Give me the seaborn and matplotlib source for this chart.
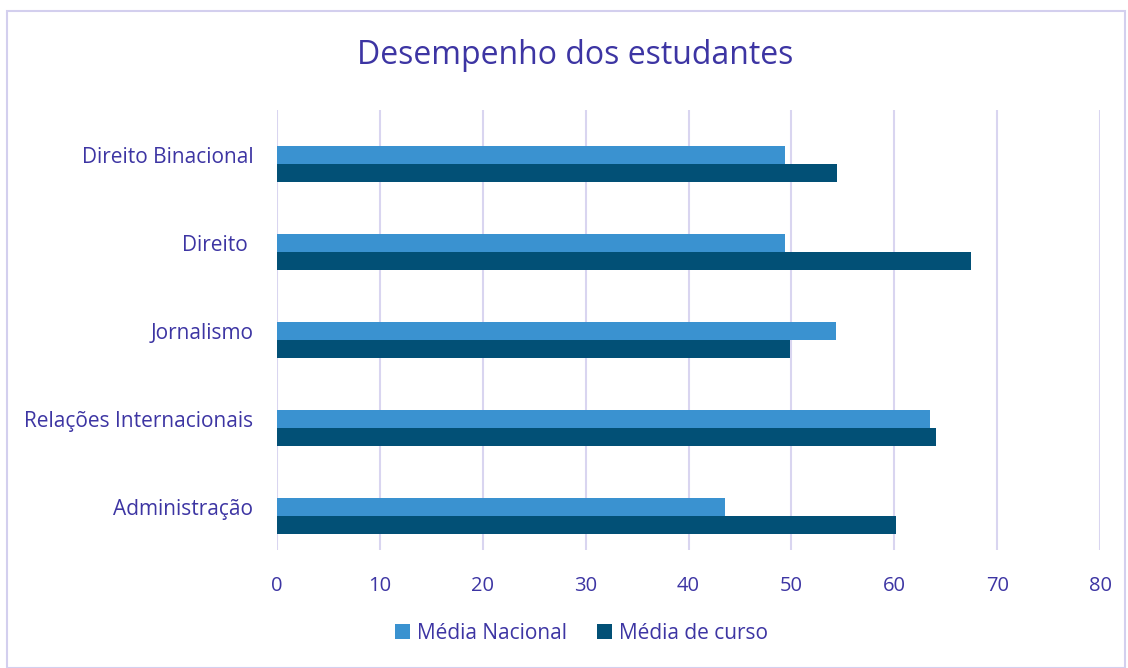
import matplotlib
matplotlib.use("Agg")
import matplotlib.pyplot as plt
import matplotlib.transforms as mtransforms
import seaborn as sns
import pandas as pd
from matplotlib.patches import Rectangle

categories = ["Direito Binacional", "Direito ", "Jornalismo", "Relações Internacionais", "Administração"]
media_nacional = [49.4, 49.4, 54.3, 63.5, 43.5]
media_curso = [54.4, 67.5, 49.9, 64.1, 60.2]
series_names = ["Média Nacional", "Média de curso"]
xticks = [0, 10, 20, 30, 40, 50, 60, 70, 80]

TXT = "#3D35A3"
GRID = "#D9D5F0"
colors = ["#3A92D0", "#025076"]

sns.set_theme(style="white")
plt.rcParams['font.family'] = ['Open Sans', 'DejaVu Sans']

df = pd.DataFrame({
    "cat": categories * 2,
    "val": media_nacional + media_curso,
    "serie": [series_names[0]] * len(categories) + [series_names[1]] * len(categories),
})

fig = plt.figure(figsize=(11.28, 6.68), dpi=100)
fig.patches.append(Rectangle((7 / 1128, 0), 1118 / 1128, 1 - 11 / 668, transform=fig.transFigure,
                             fill=False, edgecolor="#D3CFEE", linewidth=1.5))
ax = fig.add_axes([277 / 1128, 1 - 550 / 668, (1100 - 277) / 1128, 440 / 668])
sns.barplot(data=df, y="cat", x="val", hue="serie", orient="h", palette=colors,
            width=0.41, ax=ax, saturation=1, legend=True, linewidth=0)
ax.set_xlim(0, 80)
ax.set_ylim(-0.614 + 5, -0.614)
ax.set_xticks(xticks)
ax.set_xticklabels([str(v) for v in xticks], color=TXT, fontsize=14.5)
ax.tick_params(axis="x", length=0, pad=19)
ax.tick_params(axis="y", length=0, pad=17, labelcolor=TXT, labelsize=15)
offset = mtransforms.ScaledTranslation(0, 9 / 100, fig.dpi_scale_trans)
for lab in ax.get_yticklabels():
    lab.set_transform(lab.get_transform() + offset)
ax.set_xlabel("")
ax.set_ylabel("")
ax.grid(axis="x", color=GRID, linewidth=1.5)
ax.set_axisbelow(True)
for s in ax.spines.values():
    s.set_visible(False)
leg = ax.legend(loc="center", bbox_to_anchor=(0.37, -0.19), ncol=2, frameon=False,
                fontsize=15, handlelength=0.72, handleheight=0.72, columnspacing=1.4, handletextpad=0.35)
for t in leg.get_texts():
    t.set_color(TXT)
fig.text(575 / 1128, 1 - 55 / 668, "Desempenho dos estudantes", ha="center", va="center",
         color=TXT, fontsize=23)
fig.savefig("out.png", dpi=100)
